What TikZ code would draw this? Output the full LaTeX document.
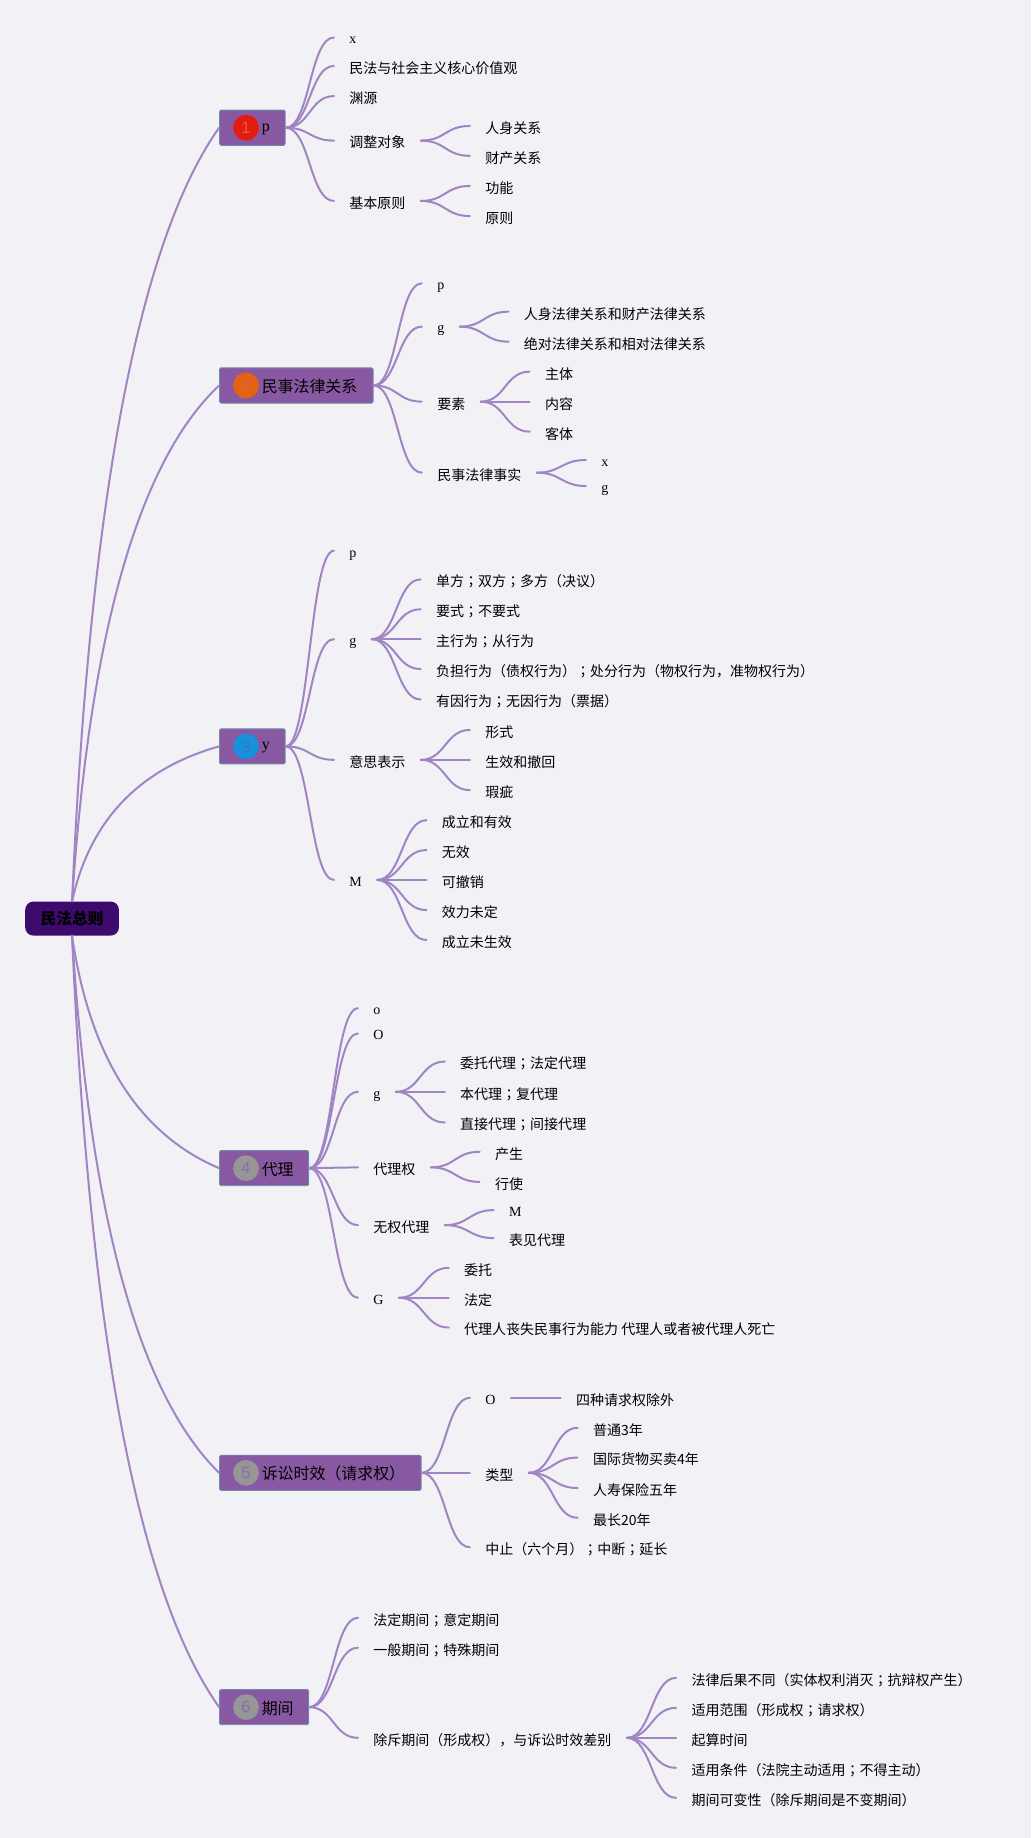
\documentclass[tikz,border=0pt]{standalone}
\usepackage{fontspec}
\usetikzlibrary{calc}
\setmainfont{Liberation Serif}
\newfontfamily\cjk{Noto Sans CJK SC}
\newfontfamily\cjkt{Noto Sans CJK TC}
\newfontfamily\numf{Liberation Sans}
\newcommand\sm{{\cjkt ；}}
\definecolor{bgc}{HTML}{F2F1F6}
\definecolor{linec}{HTML}{A085C2}
\definecolor{boxc}{HTML}{8858A2}
\definecolor{boxb}{HTML}{6F8AA8}
\definecolor{rootc}{HTML}{3D0A6E}
\definecolor{numc}{HTML}{8E6CA6}
\tikzset{
  x=1pt,y=-1pt,
  branch/.style={draw=linec,line width=1.7pt,line cap=round},
  leaf/.style={anchor=west,inner xsep=13pt,inner ysep=0pt,text height=10.8pt,text depth=0pt,font=\fontsize{11.95}{14}\selectfont,text=black},
  cleaf/.style={leaf,text height=12.6pt},
  mainbox/.style={anchor=west,fill=boxc,draw=boxb,line width=0.8pt,rounded corners=1.2pt,minimum height=30pt,inner sep=0pt,text height=12pt,text depth=0pt,font=\fontsize{13.6}{16}\selectfont,text=black},
  badge/.style={circle,minimum size=22pt,inner sep=0pt,font=\numf\fontsize{14}{16}\selectfont,text=numc},
  rootbox/.style={fill=rootc,rounded corners=7pt,minimum width=80pt,minimum height=29pt,inner sep=0pt,font=\cjk\bfseries\fontsize{13.4}{16}\selectfont,text=black}
}
\newcommand\boxt[2]{\makebox[#1pt][l]{\hspace{36pt}#2}}
\newcommand\conn[2]{\path[branch] let \p1=(#1.east),\p2=(#2.west) in (\p1) .. controls ({0.5*\x1+0.5*\x2},\y1) and ({0.5*\x1+0.5*\x2},\y2) .. (\p2);}
\newcommand\rootconn[2]{\path[branch] let \p1=(root.#1),\p2=(#2.west) in (\p1) .. controls ({\x1+0.12*(\x2-\x1)},{\y1+0.52*(\y2-\y1)}) and ({\x2-0.547*(\x2-\x1)},{\y2-0.147*(\y2-\y1)}) .. (\p2);}
\begin{document}
\begin{tikzpicture}
\fill[bgc] (0,0) rectangle (880,1568.7);
\useasboundingbox (0,0) rectangle (880,1568.7);
% root
\node[rootbox] (root) at (61.5,784) {民法总则};
% main boxes
\node[mainbox] (m1) at (187,109) {\boxt{56}{\raisebox{3pt}{p}}};
\node[mainbox] (m2) at (187,329) {\boxt{131}{\cjk 民事法律关系}};
\node[mainbox] (m3) at (187,637) {\boxt{56}{\raisebox{3pt}{y}}};
\node[mainbox] (m4) at (187,997) {\boxt{76}{\cjk 代理}};
\node[mainbox] (m5) at (187,1257) {\boxt{172}{\cjk 诉讼时效（请求权）}};
\node[mainbox] (m6) at (187,1457) {\boxt{76}{\cjk 期间}};
\node[badge,fill={rgb,255:red,226;green,28;blue,14},text={rgb,255:red,232;green,90;blue,80}] (b1) at (210,109) {1};
\node[badge,fill={rgb,255:red,228;green,98;blue,18},text={rgb,255:red,205;green,110;blue,70}] (b2) at (210,329) {2};
\node[badge,fill={rgb,255:red,24;green,145;blue,220},text={rgb,255:red,50;green,120;blue,200}] (b3) at (210,637) {3};
\node[badge,fill={rgb,255:red,150;green,150;blue,150}] (b4) at (210,997) {4};
\node[badge,fill={rgb,255:red,150;green,150;blue,150}] (b5) at (210,1257) {5};
\node[badge,fill={rgb,255:red,150;green,150;blue,150}] (b6) at (210,1457) {6};
% branch 1
\node[leaf] (a1) at (285,32) {x};
\node[cleaf] (a2) at (285,56.3) {\cjk 民法与社会主义核心价值观};
\node[cleaf] (a3) at (285,82) {\cjk 渊源};
\node[cleaf] (a4) at (285,120) {\cjk 调整对象};
\node[cleaf] (a5) at (285,171.5) {\cjk 基本原则};
\node[cleaf] (a41) at (401,107.5) {\cjk 人身关系};
\node[cleaf] (a42) at (401,133) {\cjk 财产关系};
\node[cleaf] (a51) at (401,158.7) {\cjk 功能};
\node[cleaf] (a52) at (401,184.4) {\cjk 原则};
\foreach \c in {a1,a2,a3,a4,a5} {\conn{m1}{\c}}
\conn{a4}{a41}\conn{a4}{a42}\conn{a5}{a51}\conn{a5}{a52}
% branch 2
\node[leaf] (c1) at (360,241.8) {p};
\node[leaf] (c2) at (360,278.8) {g};
\node[cleaf] (c3) at (360,342.8) {\cjk 要素};
\node[cleaf] (c4) at (360,403.4) {\cjk 民事法律事实};
\node[cleaf] (c21) at (434,266) {\cjk 人身法律关系和财产法律关系};
\node[cleaf] (c22) at (434,291.6) {\cjk 绝对法律关系和相对法律关系};
\node[cleaf] (c31) at (452,317.2) {\cjk 主体};
\node[cleaf] (c32) at (452,342.8) {\cjk 内容};
\node[cleaf] (c33) at (452,368.4) {\cjk 客体};
\node[leaf] (c41) at (500,392.6) {x};
\node[leaf] (c42) at (500,414.8) {g};
\foreach \c in {c1,c2,c3,c4} {\conn{m2}{\c}}
\conn{c2}{c21}\conn{c2}{c22}\conn{c3}{c31}\conn{c3}{c32}\conn{c3}{c33}\conn{c4}{c41}\conn{c4}{c42}
% branch 3
\node[leaf] (d1) at (285,470) {p};
\node[leaf] (d2) at (285,545.5) {g};
\node[cleaf] (d3) at (285,648.5) {\cjk 意思表示};
\node[leaf] (d4) at (285,751) {M};
\node[cleaf] (d21) at (359,494.5) {\cjk 单方\sm 双方\sm 多方（决议）};
\node[cleaf] (d22) at (359,520) {\cjk 要式\sm 不要式};
\node[cleaf] (d23) at (359,545.5) {\cjk 主行为\sm 从行为};
\node[cleaf] (d24) at (359,571) {\cjk 负担行为（债权行为）\sm 处分行为（物权行为，准物权行为）};
\node[cleaf] (d25) at (359,597) {\cjk 有因行为\sm 无因行为（票据）};
\node[cleaf] (d31) at (401,623) {\cjk 形式};
\node[cleaf] (d32) at (401,648.5) {\cjk 生效和撤回};
\node[cleaf] (d33) at (401,674.3) {\cjk 瑕疵};
\node[cleaf] (d41) at (364,700) {\cjk 成立和有效};
\node[cleaf] (d42) at (364,725.5) {\cjk 无效};
\node[cleaf] (d43) at (364,751) {\cjk 可撤销};
\node[cleaf] (d44) at (364,776.7) {\cjk 效力未定};
\node[cleaf] (d45) at (364,802.3) {\cjk 成立未生效};
\foreach \c in {d1,d2,d3,d4} {\conn{m3}{\c}}
\foreach \c in {d21,d22,d23,d24,d25} {\conn{d2}{\c}}
\foreach \c in {d31,d32,d33} {\conn{d3}{\c}}
\foreach \c in {d41,d42,d43,d44,d45} {\conn{d4}{\c}}
% branch 4
\node[leaf] (e1) at (305.5,860.5) {o};
\node[leaf] (e2) at (305.5,882) {O};
\node[leaf] (e3) at (305.5,931.8) {g};
\node[cleaf] (e4) at (305.5,996.3) {\cjk 代理权};
\node[cleaf] (e5) at (305.5,1045.6) {\cjk 无权代理};
\node[leaf] (e6) at (305.5,1107.6) {G};
\node[cleaf] (e31) at (379.6,906) {\cjk 委托代理\sm 法定代理};
\node[cleaf] (e32) at (379.6,931.8) {\cjk 本代理\sm 复代理};
\node[cleaf] (e33) at (379.6,958) {\cjk 直接代理\sm 间接代理};
\node[cleaf] (e41) at (409.3,983) {\cjk 产生};
\node[cleaf] (e42) at (409.3,1008.7) {\cjk 行使};
\node[leaf] (e51) at (421.3,1032.8) {M};
\node[cleaf] (e52) at (421.3,1056.7) {\cjk 表见代理};
\node[cleaf] (e61) at (383,1082) {\cjk 委托};
\node[cleaf] (e62) at (383,1107.6) {\cjk 法定};
\node[cleaf] (e63) at (383,1133) {\cjk 代理人丧失民事行为能力 代理人或者被代理人死亡};
\foreach \c in {e1,e2,e3,e4,e5,e6} {\conn{m4}{\c}}
\foreach \c in {e31,e32,e33} {\conn{e3}{\c}}
\conn{e4}{e41}\conn{e4}{e42}\conn{e5}{e51}\conn{e5}{e52}
\foreach \c in {e61,e62,e63} {\conn{e6}{\c}}
% branch 5
\node[leaf] (f1) at (401,1193) {O};
\node[cleaf] (f2) at (401,1257) {\cjk 类型};
\node[cleaf] (f3) at (401,1320.5) {\cjk 中止（六个月）\sm 中断\sm 延长};
\node[cleaf] (f11) at (478.5,1193) {\cjk 四种请求权除外};
\node[cleaf] (f21) at (493,1218.6) {\cjk 普通3年};
\node[cleaf] (f22) at (493,1244) {\cjk 国际货物买卖4年};
\node[cleaf] (f23) at (493,1270) {\cjk 人寿保险五年};
\node[cleaf] (f24) at (493,1295.4) {\cjk 最长20年};
\foreach \c in {f1,f2,f3} {\conn{m5}{\c}}
\conn{f1}{f11}
\foreach \c in {f21,f22,f23,f24} {\conn{f2}{\c}}
% branch 6
\node[cleaf] (g1) at (305.5,1380.7) {\cjk 法定期间\sm 意定期间};
\node[cleaf] (g2) at (305.5,1406.3) {\cjk 一般期间\sm 特殊期间};
\node[cleaf] (g3) at (305.5,1483.2) {\cjk 除斥期间（形成权），与诉讼时效差别};
\node[cleaf] (g31) at (577,1432) {\cjk 法律后果不同（实体权利消灭\sm 抗辩权产生）};
\node[cleaf] (g32) at (577,1457.6) {\cjk 适用范围（形成权\sm 请求权）};
\node[cleaf] (g33) at (577,1483.2) {\cjk 起算时间};
\node[cleaf] (g34) at (577,1508.8) {\cjk 适用条件（法院主动适用\sm 不得主动）};
\node[cleaf] (g35) at (577,1534.4) {\cjk 期间可变性（除斥期间是不变期间）};
\foreach \c in {g1,g2,g3} {\conn{m6}{\c}}
\foreach \c in {g31,g32,g33,g34,g35} {\conn{g3}{\c}}
% root connectors
\rootconn{north}{m1}\rootconn{north}{m2}\rootconn{north}{m3}
\rootconn{south}{m4}\rootconn{south}{m5}\rootconn{south}{m6}
\end{tikzpicture}
\end{document}
